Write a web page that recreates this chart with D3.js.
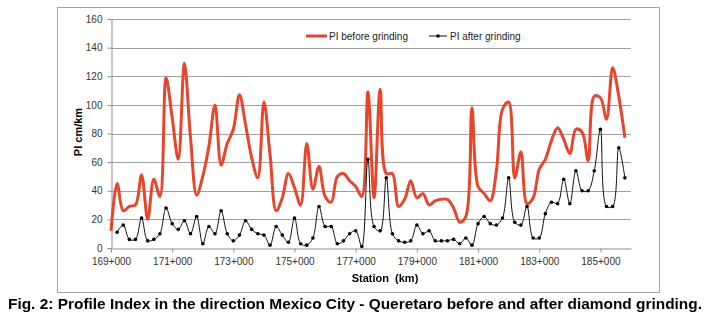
<!DOCTYPE html>
<head>
  <meta charset="utf-8">
  <script src="https://d3js.org/d3.v7.min.js"></script>
  <style>
    body { margin:0;position:fixed;top:0;right:0;bottom:0;left:0;background:#fff; }
    text { font-family: "Liberation Sans", Arial, sans-serif; }
  </style>
</head>

<body>

  <script>
    // stations along the road (km), one reading every 200 m
    var stations = [169.0, 169.2, 169.4, 169.6, 169.8, 170.0, 170.2, 170.4, 170.6, 170.8,
                    171.0, 171.2, 171.4, 171.6, 171.8, 172.0, 172.2, 172.4, 172.6, 172.8,
                    173.0, 173.2, 173.4, 173.6, 173.8, 174.0, 174.2, 174.4, 174.6, 174.8,
                    175.0, 175.2, 175.4, 175.6, 175.8, 176.0, 176.2, 176.4, 176.6, 176.8,
                    177.0, 177.2, 177.4, 177.6, 177.8, 178.0, 178.2, 178.4, 178.6, 178.8,
                    179.0, 179.2, 179.4, 179.6, 179.8, 180.0, 180.2, 180.4, 180.6, 180.8,
                    181.0, 181.2, 181.4, 181.6, 181.8, 182.0, 182.2, 182.4, 182.6, 182.8,
                    183.0, 183.2, 183.4, 183.6, 183.8, 184.0, 184.2, 184.4, 184.6, 184.8,
                    185.0, 185.2, 185.4, 185.6, 185.8];

    // PI before grinding (cm/km)
    var before = [12, 45, 26, 29, 30, 51, 20, 48, 36, 119,
                  91, 62, 129, 77, 37, 50, 71, 100, 58, 73,
                  83, 107, 86, 63, 49, 102, 65, 26, 35, 52,
                  42, 30, 73, 41, 57, 36, 32, 50, 52, 47,
                  43, 36, 109, 35, 111, 52, 52, 29, 34, 47,
                  35, 38, 30, 33, 34, 34, 28, 18, 22, 98,
                  43, 38, 33, 54, 97, 102, 49, 67, 31, 35,
                  55, 62, 75, 84, 76, 66, 83, 81, 61, 106,
                  105, 90, 126, 106, 77];

    // PI after grinding (cm/km), nothing measured at the first station
    var after = [null, 11, 16, 6, 6, 21, 5, 6, 10, 28,
                 17, 13, 19, 10, 22, 3, 15, 10, 26, 10,
                 5, 9, 19, 13, 10, 9, 2, 15, 9, 4,
                 21, 3, 2, 7, 29, 15, 15, 3, 5, 10,
                 12, 1, 62, 15, 12, 49, 10, 5, 4, 5,
                 16, 10, 12, 5, 5, 5, 6, 3, 7, 2,
                 17, 22, 17, 16, 21, 49, 18, 16, 29, 7,
                 7, 24, 32, 31, 48, 31, 54, 40, 40, 54,
                 83, 29, 29, 70, 49];

    var xTicks = [169, 171, 173, 175, 177, 179, 181, 183, 185];
    var yTicks = [0, 20, 40, 60, 80, 100, 120, 140, 160];

    var width = 709;
    var height = 322;

    var svg = d3.select("body").append("svg")
      .attr("width", width)
      .attr("height", height);

    // chart frame
    svg.append("rect")
      .attr("x", 57.5).attr("y", 7.5)
      .attr("width", 602).attr("height", 285)
      .attr("fill", "#fff")
      .attr("stroke", "#a6a6a6");

    var x = d3.scaleLinear().domain([169, 186]).range([111, 631]);
    var y = d3.scaleLinear().domain([0, 160]).range([248, 19]);

    // horizontal grid
    svg.append("g").selectAll("line")
      .data(yTicks.slice(1))
      .enter().append("line")
      .attr("x1", 111).attr("x2", 631)
      .attr("y1", function(d){ return Math.round(y(d)) + 0.5; })
      .attr("y2", function(d){ return Math.round(y(d)) + 0.5; })
      .attr("stroke", "#a0a0a0");

    var yAxis = svg.append("g")
      .attr("transform", "translate(111.5,0)")
      .call(d3.axisLeft(y).tickValues(yTicks).tickSize(4).tickPadding(5).tickSizeOuter(0));

    var xAxis = svg.append("g")
      .attr("transform", "translate(0,248.5)")
      .call(d3.axisBottom(x).tickValues(xTicks).tickSize(4).tickPadding(5).tickSizeOuter(0)
        .tickFormat(function(d){ return d + "+000"; }));

    [yAxis, xAxis].forEach(function(a){
      a.selectAll("path, line").attr("stroke", "#8c8c8c");
      a.selectAll("text").attr("font-size", 10).attr("fill", "#333");
    });

    // smoothed lines like the spreadsheet ones
    var line = d3.line()
      .defined(function(d){ return d[1] !== null; })
      .x(function(d){ return x(d[0]); })
      .y(function(d){ return y(d[1]); })
      .curve(d3.curveCatmullRom.alpha(0.5));

    var beforePts = stations.map(function(s, i){ return [s, before[i]]; });
    var afterPts = stations.map(function(s, i){ return [s, after[i]]; });

    svg.append("path")
      .datum(beforePts)
      .attr("d", line)
      .attr("fill", "none")
      .attr("stroke", "#e8452c")
      .attr("stroke-width", 3)
      .attr("stroke-linejoin", "round");

    svg.append("path")
      .datum(afterPts)
      .attr("d", line)
      .attr("fill", "none")
      .attr("stroke", "#111")
      .attr("stroke-width", 1);

    svg.append("g").selectAll("circle")
      .data(afterPts.filter(function(d){ return d[1] !== null; }))
      .enter().append("circle")
      .attr("cx", function(d){ return x(d[0]); })
      .attr("cy", function(d){ return y(d[1]); })
      .attr("r", 1.8)
      .attr("fill", "#000");

    // legend
    var leg = svg.append("g");
    leg.append("line").attr("x1", 306).attr("x2", 327).attr("y1", 36).attr("y2", 36)
      .attr("stroke", "#e8452c").attr("stroke-width", 3);
    leg.append("text").attr("x", 329).attr("y", 39.5).attr("font-size", 10).attr("fill", "#222")
      .text("PI before grinding");
    leg.append("line").attr("x1", 429).attr("x2", 447).attr("y1", 36).attr("y2", 36)
      .attr("stroke", "#111").attr("stroke-width", 1);
    leg.append("circle").attr("cx", 438).attr("cy", 36).attr("r", 1.8).attr("fill", "#000");
    leg.append("text").attr("x", 450).attr("y", 39.5).attr("font-size", 10).attr("fill", "#222")
      .text("PI after grinding");

    // axis titles
    svg.append("text")
      .attr("transform", "translate(82,132) rotate(-90)")
      .attr("text-anchor", "middle")
      .attr("font-size", 11).attr("font-weight", "bold")
      .text("PI cm/km");

    svg.append("text")
      .attr("x", 385).attr("y", 282)
      .attr("text-anchor", "middle")
      .attr("font-size", 11).attr("font-weight", "bold")
      .attr("xml:space", "preserve")
      .text("Station  (km)");

    // caption
    svg.append("text")
      .attr("x", 355).attr("y", 309)
      .attr("text-anchor", "middle")
      .attr("font-size", 15).attr("font-weight", "bold")
      .attr("textLength", 694).attr("lengthAdjust", "spacingAndGlyphs")
      .text("Fig. 2: Profile Index in the direction Mexico City - Queretaro before and after diamond grinding.");

  </script>
</body>
